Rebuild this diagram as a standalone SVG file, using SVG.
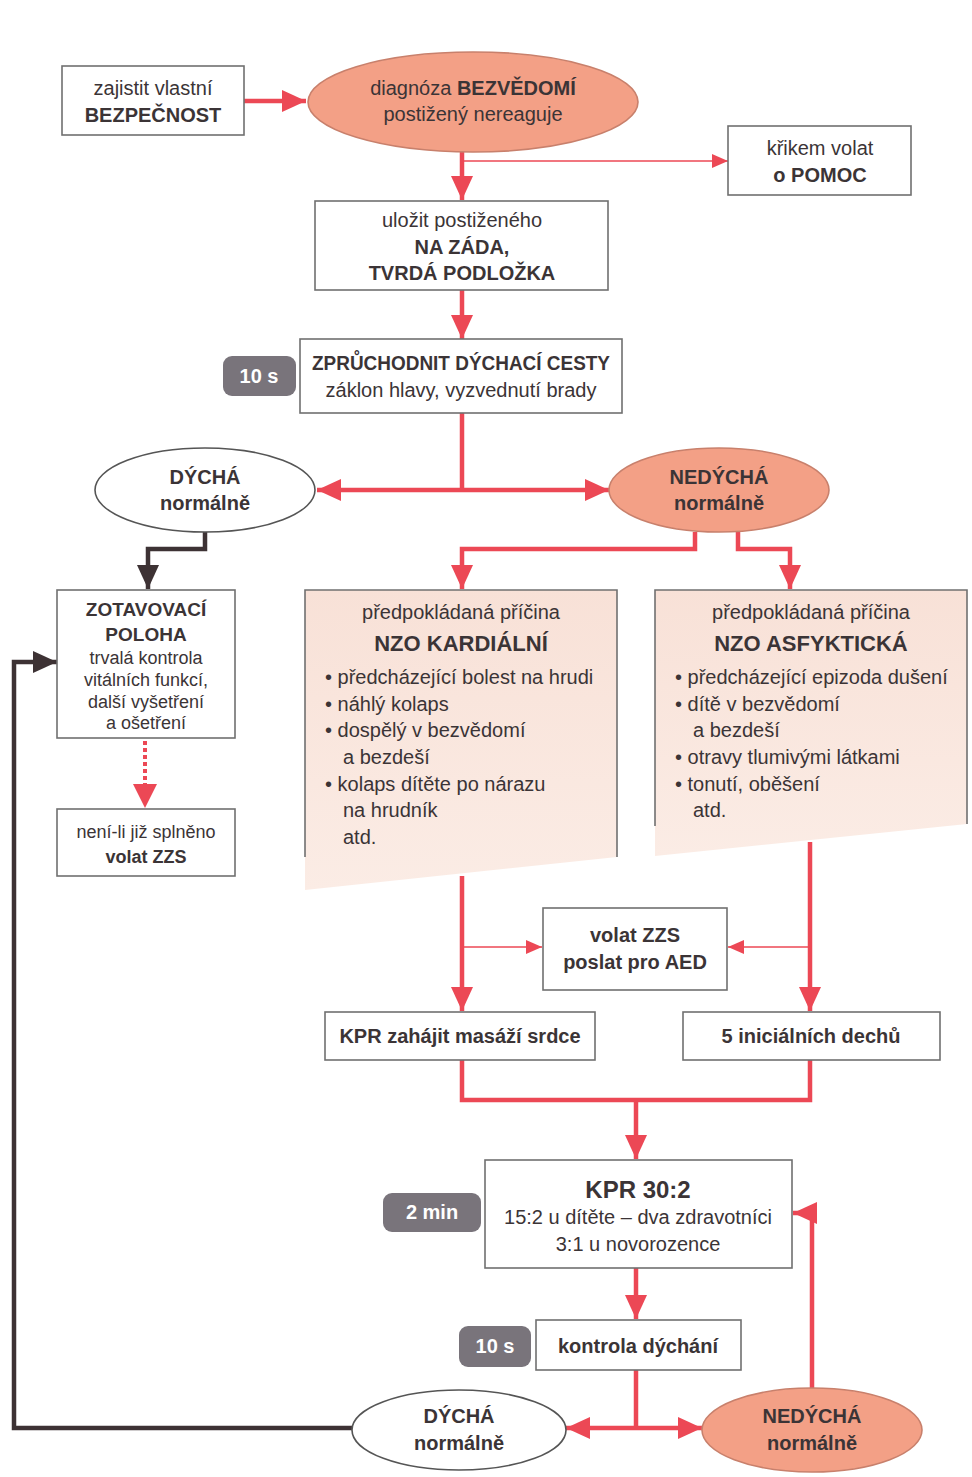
<svg xmlns="http://www.w3.org/2000/svg" width="972" height="1477" viewBox="0 0 972 1477">
<defs>
<style>
text{font-family:"Liberation Sans Narrow","Liberation Sans",sans-serif;fill:#3b3436;text-anchor:middle;font-size:20px}
.b{font-weight:bold}
.l{text-anchor:start}
.s18{font-size:18px}
.s19{font-size:19px}
.s22{font-size:22px}
.s24{font-size:24px}
.box{fill:#fff;stroke:#707070;stroke-width:1.6}
.oval{stroke:#555;stroke-width:1.6}
.red{fill:#f3a086;stroke:#c8806c}
.wh{fill:#fff}
.thick{stroke:#ec4855;stroke-width:4.5;fill:none}
.thin{stroke:#ec4855;stroke-width:1.6;fill:none}
.dark{stroke:#3d3234;stroke-width:4.5;fill:none}
.badge{fill:#79747b}
.bt{fill:#fff;font-weight:bold}
.card{stroke:#707070;stroke-width:1.6;fill:none}
</style>
<linearGradient id="pk" x1="0" y1="0" x2="0" y2="1">
<stop offset="0" stop-color="#f8e1d7"/>
<stop offset="1" stop-color="#fbece5"/>
</linearGradient>
<radialGradient id="sal" cx="0.5" cy="0.45" r="0.6">
<stop offset="0" stop-color="#f7b39b"/>
<stop offset="1" stop-color="#f0967c"/>
</radialGradient>
<marker id="ah" markerUnits="userSpaceOnUse" markerWidth="24" markerHeight="22" refX="24" refY="11" orient="auto"><path d="M0,0 L24,11 L0,22 z" fill="#ec4855"/></marker>
<marker id="as" markerUnits="userSpaceOnUse" markerWidth="16" markerHeight="14" refX="16" refY="7" orient="auto"><path d="M0,0 L16,7 L0,14 z" fill="#ec4855"/></marker>
<marker id="ad" markerUnits="userSpaceOnUse" markerWidth="24" markerHeight="22" refX="24" refY="11" orient="auto"><path d="M0,0 L24,11 L0,22 z" fill="#3d3234"/></marker>
</defs>
<rect width="972" height="1477" fill="#fff"/>

<g id="connectors">
<line class="thick" x1="244" y1="101" x2="306" y2="101" marker-end="url(#ah)"/>
<line class="thick" x1="462" y1="152" x2="462" y2="200" marker-end="url(#ah)"/>
<line class="thin" x1="462" y1="161" x2="728" y2="161" marker-end="url(#as)"/>
<line class="thick" x1="462" y1="290" x2="462" y2="339" marker-end="url(#ah)"/>
<line class="thick" x1="462" y1="413" x2="462" y2="490"/>
<line class="thick" x1="462" y1="490" x2="317" y2="490" marker-end="url(#ah)"/>
<line class="thick" x1="462" y1="490" x2="609" y2="490" marker-end="url(#ah)"/>
<path class="dark" d="M205,532 V549 H148 V589" marker-end="url(#ad)"/>
<path class="thick" d="M695,532 V549 H462 V589" marker-end="url(#ah)"/>
<path class="thick" d="M738,532 V549 H790 V589" marker-end="url(#ah)"/>
<line x1="145" y1="741" x2="145" y2="786" stroke="#ec4855" stroke-width="4" stroke-dasharray="4,3"/>
<path d="M133,784 L157,784 L145,808 z" fill="#ec4855"/>
<path class="dark" d="M352,1428 H14 V662 H57" marker-end="url(#ad)"/>
<line class="thick" x1="462" y1="876" x2="462" y2="1011" marker-end="url(#ah)"/>
<line class="thin" x1="462" y1="947" x2="542" y2="947" marker-end="url(#as)"/>
<line class="thick" x1="810" y1="842" x2="810" y2="1011" marker-end="url(#ah)"/>
<line class="thin" x1="810" y1="947" x2="728" y2="947" marker-end="url(#as)"/>
<path class="thick" d="M462,1060 V1100 H810 V1060"/>
<line class="thick" x1="636" y1="1100" x2="636" y2="1159" marker-end="url(#ah)"/>
<line class="thick" x1="636" y1="1268" x2="636" y2="1319" marker-end="url(#ah)"/>
<line class="thick" x1="636" y1="1370" x2="636" y2="1428"/>
<line class="thick" x1="636" y1="1428" x2="566" y2="1428" marker-end="url(#ah)"/>
<line class="thick" x1="636" y1="1428" x2="702" y2="1428" marker-end="url(#ah)"/>
<path class="thick" d="M812,1388 V1213 H793" marker-end="url(#ah)"/>
</g>

<g id="n1">
<rect class="box" x="62" y="66" width="182" height="69"/>
<text x="153" y="95">zajistit vlastní</text>
<text x="153" y="122" class="b">BEZPEČNOST</text>
</g>

<g id="n2">
<ellipse class="oval red" cx="473" cy="102" rx="165" ry="50" fill="url(#sal)"/>
<text x="473" y="95">diagnóza <tspan class="b">BEZVĚDOMÍ</tspan></text>
<text x="473" y="121">postižený nereaguje</text>
</g>

<g id="n3">
<rect class="box" x="728" y="126" width="183" height="69"/>
<text x="820" y="155">křikem volat</text>
<text x="820" y="182" class="b">o POMOC</text>
</g>

<g id="n4">
<rect class="box" x="315" y="201" width="293" height="89"/>
<text x="462" y="227">uložit postiženého</text>
<text x="462" y="254" class="b">NA ZÁDA,</text>
<text x="462" y="280" class="b">TVRDÁ PODLOŽKA</text>
</g>

<g id="n5">
<rect class="badge" x="223" y="356" width="73" height="40" rx="9"/>
<text x="259" y="383" class="bt">10 s</text>
<rect class="box" x="300" y="339" width="322" height="74"/>
<text x="461" y="370" class="b" textLength="298" lengthAdjust="spacingAndGlyphs">ZPRŮCHODNIT DÝCHACÍ CESTY</text>
<text x="461" y="397">záklon hlavy, vyzvednutí brady</text>
</g>

<g id="n6">
<ellipse class="oval wh" cx="205" cy="490" rx="110" ry="42"/>
<text x="205" y="484" class="b">DÝCHÁ</text>
<text x="205" y="510" class="b">normálně</text>
</g>

<g id="n7">
<ellipse class="oval red" cx="719" cy="490" rx="110" ry="42" fill="url(#sal)"/>
<text x="719" y="484" class="b">NEDÝCHÁ</text>
<text x="719" y="510" class="b">normálně</text>
</g>

<g id="n8">
<rect class="box" x="57" y="590" width="178" height="148"/>
<text x="146" y="616" class="b s19">ZOTAVOVACÍ</text>
<text x="146" y="641" class="b s19">POLOHA</text>
<text x="146" y="664" class="s18">trvalá kontrola</text>
<text x="146" y="686" class="s18">vitálních funkcí,</text>
<text x="146" y="708" class="s18">další vyšetření</text>
<text x="146" y="729" class="s18">a ošetření</text>
</g>

<g id="n9">
<rect class="box" x="57" y="809" width="178" height="67"/>
<text x="146" y="838" class="s18">není-li již splněno</text>
<text x="146" y="863" class="b s18">volat ZZS</text>
</g>

<g id="n10">
<path d="M305,590 H617 V857 L305,890 Z" fill="url(#pk)"/>
<path class="card" d="M305,857 V590 H617 V857"/>
<text x="461" y="619">předpokládaná příčina</text>
<text x="461" y="651" class="b s22">NZO KARDIÁLNÍ</text>
<text x="325" y="684" class="l">• předcházející bolest na hrudi</text>
<text x="325" y="711" class="l">• náhlý kolaps</text>
<text x="325" y="737" class="l">• dospělý v bezvědomí</text>
<text x="343" y="764" class="l">a bezdeší</text>
<text x="325" y="791" class="l">• kolaps dítěte po nárazu</text>
<text x="343" y="817" class="l">na hrudník</text>
<text x="343" y="844" class="l">atd.</text>
</g>

<g id="n11">
<path d="M655,590 H967 V824 L655,856 Z" fill="url(#pk)"/>
<path class="card" d="M655,826 V590 H967 V824"/>
<text x="811" y="619">předpokládaná příčina</text>
<text x="811" y="651" class="b s22">NZO ASFYKTICKÁ</text>
<text x="675" y="684" class="l">• předcházející epizoda dušení</text>
<text x="675" y="711" class="l">• dítě v bezvědomí</text>
<text x="693" y="737" class="l">a bezdeší</text>
<text x="675" y="764" class="l">• otravy tlumivými látkami</text>
<text x="675" y="791" class="l">• tonutí, oběšení</text>
<text x="693" y="817" class="l">atd.</text>
</g>

<g id="n12">
<rect class="box" x="543" y="908" width="184" height="82"/>
<text x="635" y="942" class="b">volat ZZS</text>
<text x="635" y="969" class="b">poslat pro AED</text>
</g>

<g id="n13">
<rect class="box" x="325" y="1012" width="270" height="48"/>
<text x="460" y="1043" class="b">KPR zahájit masáží srdce</text>
</g>

<g id="n14">
<rect class="box" x="683" y="1012" width="257" height="48"/>
<text x="811" y="1043" class="b">5 iniciálních dechů</text>
</g>

<g id="n15">
<rect class="badge" x="383" y="1193" width="98" height="39" rx="9"/>
<text x="432" y="1219" class="bt">2 min</text>
<rect class="box" x="485" y="1160" width="307" height="108" stroke-width="2"/>
<text x="638" y="1198" class="b s24">KPR 30:2</text>
<text x="638" y="1224">15:2 u dítěte – dva zdravotníci</text>
<text x="638" y="1251">3:1 u novorozence</text>
</g>

<g id="n16">
<rect class="badge" x="459" y="1326" width="72" height="41" rx="9"/>
<text x="495" y="1353" class="bt">10 s</text>
<rect class="box" x="536" y="1320" width="205" height="50"/>
<text x="638" y="1353" class="b">kontrola dýchání</text>
</g>

<g id="n17">
<ellipse class="oval wh" cx="459" cy="1430" rx="107" ry="40"/>
<text x="459" y="1423" class="b">DÝCHÁ</text>
<text x="459" y="1450" class="b">normálně</text>
</g>

<g id="n18">
<ellipse class="oval red" cx="812" cy="1430" rx="110" ry="42" fill="url(#sal)"/>
<text x="812" y="1423" class="b">NEDÝCHÁ</text>
<text x="812" y="1450" class="b">normálně</text>
</g>
</svg>
